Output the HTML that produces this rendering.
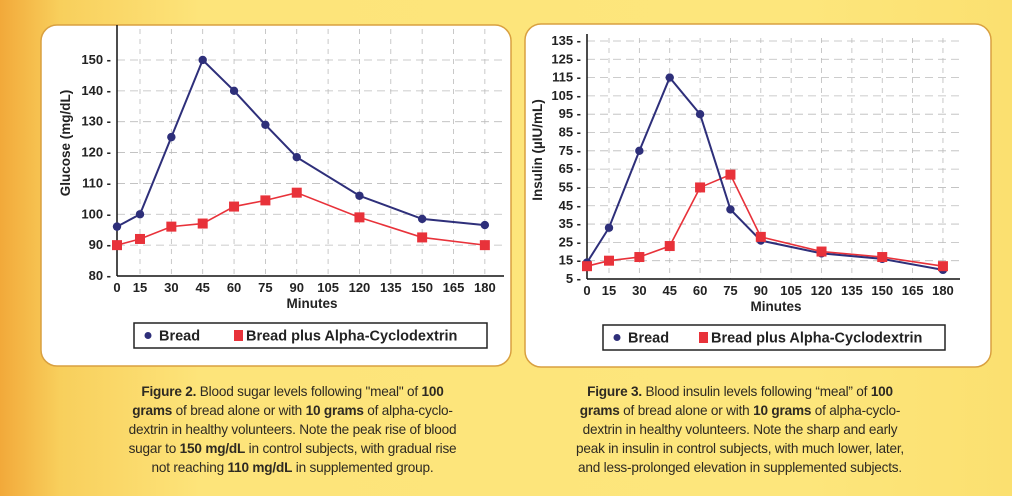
<!DOCTYPE html>
<html><head><meta charset="utf-8">
<style>
html,body{margin:0;padding:0;}
body{width:1012px;height:496px;overflow:hidden;background:linear-gradient(90deg,#f2a93a 0px,#f8cf5c 60px,#fde47a 200px,#fde67c 800px,#fbe070 1012px);font-family:"Liberation Sans",Arial,sans-serif;}
svg{position:absolute;left:0;top:0;}
.cap{position:absolute;color:#2e2a22;font-size:13.6px;line-height:19px;text-align:center;letter-spacing:-0.2px;}
.cap b{font-weight:bold;}
</style></head><body>
<svg id="s" width="1012" height="496" xmlns="http://www.w3.org/2000/svg" font-family="Liberation Sans, Arial, sans-serif"></svg>
<div class="cap" style="left:80px;top:382px;width:425px;"><b>Figure 2.</b> Blood sugar levels following "meal" of <b>100<br>grams</b> of bread alone or with <b>10 grams</b> of alpha-cyclo-<br>dextrin in healthy volunteers. Note the peak rise of blood<br>sugar to <b>150 mg/dL</b> in control subjects, with gradual rise<br>not reaching <b>110 mg/dL</b> in supplemented group.</div>
<div class="cap" style="left:530px;top:382px;width:420px;"><b>Figure 3.</b> Blood insulin levels following “meal” of <b>100<br>grams</b> of bread alone or with <b>10 grams</b> of alpha-cyclo-<br>dextrin in healthy volunteers. Note the sharp and early<br>peak in insulin in control subjects, with much lower, later,<br>and less-prolonged elevation in supplemented subjects.</div>
<script>
var s=document.getElementById('s');var h='';
h+='<rect x="41" y="25" width="470" height="341" rx="16" fill="#fff" stroke="#d9a040" stroke-width="1.5"/>';
h+='<rect x="525" y="24" width="466" height="343" rx="16" fill="#fff" stroke="#d9a040" stroke-width="1.5"/>';
var mins=[0,15,30,45,60,75,90,105,120,135,150,165,180];
function chart(o){
 var X=function(m){return m==0?o.x0:o.x15+(m-15)*o.dx;};
 var Y=function(v){return o.yb-(v-o.vmin)*o.dy;};
 for(var i=1;i<mins.length;i++){h+='<line x1="'+X(mins[i])+'" y1="'+o.ytop+'" x2="'+X(mins[i])+'" y2="'+o.yb+'" stroke="#bbb" stroke-width="0.8" stroke-dasharray="5,5"/>';}
 o.yt.forEach(function(v){ if(v>o.vmin){h+='<line x1="'+o.x0+'" y1="'+Y(v)+'" x2="'+o.xr+'" y2="'+Y(v)+'" stroke="#bbb" stroke-width="0.8" stroke-dasharray="8,5"/>';}
  h+='<text x="'+(o.x0-6)+'" y="'+(Y(v)+4)+'" font-size="13" font-weight="bold" text-anchor="end" fill="#222">'+v+' -</text>';});
 h+='<line x1="'+o.x0+'" y1="'+(o.ytop-4)+'" x2="'+o.x0+'" y2="'+o.yb+'" stroke="#111" stroke-width="1.5"/>';
 h+='<line x1="'+o.x0+'" y1="'+o.yb+'" x2="'+o.xr+'" y2="'+o.yb+'" stroke="#111" stroke-width="1.5"/>';
 mins.forEach(function(m){h+='<text x="'+X(m)+'" y="'+(o.yb+16)+'" font-size="13" font-weight="bold" text-anchor="middle" fill="#222">'+m+'</text>';});
 h+='<text x="'+o.mx+'" y="'+(o.yb+32)+'" font-size="13.5" font-weight="bold" text-anchor="middle" fill="#222">Minutes</text>';
 h+='<text transform="translate('+o.lx+','+o.ly+') rotate(-90)" font-size="13.5" font-weight="bold" text-anchor="middle" fill="#222">'+o.lab+'</text>';
 var ms=[0,15,30,45,60,75,90,120,150,180];
 var pr=ms.map(function(m,i){return X(m)+','+Y(o.r[i]);}).join(' ');
 var pb=ms.map(function(m,i){return X(m)+','+Y(o.b[i]);}).join(' ');
 h+='<polyline points="'+pr+'" fill="none" stroke="#e8323a" stroke-width="1.6"/>';
 h+='<polyline points="'+pb+'" fill="none" stroke="#2e2f7a" stroke-width="2"/>';
 ms.forEach(function(m,i){h+='<circle cx="'+X(m)+'" cy="'+Y(o.b[i])+'" r="4.2" fill="#2e2f7a"/>';});
 ms.forEach(function(m,i){h+='<rect x="'+(X(m)-5)+'" y="'+(Y(o.r[i])-5)+'" width="10" height="10" fill="#e8323a"/>';});
 var L=o.leg;
 h+='<rect x="'+L[0]+'" y="'+L[1]+'" width="'+L[2]+'" height="25" fill="#fff" stroke="#222" stroke-width="1.5"/>';
 h+='<circle cx="'+(L[0]+14)+'" cy="'+(L[1]+12.5)+'" r="3.5" fill="#2e2f7a"/>';
 h+='<text x="'+(L[0]+25)+'" y="'+(L[1]+17.5)+'" font-size="14.5" font-weight="bold" fill="#222">Bread</text>';
 h+='<rect x="'+(L[0]+L[3])+'" y="'+(L[1]+7)+'" width="9" height="11" fill="#e8323a"/>';
 h+='<text x="'+(L[0]+L[3]+12)+'" y="'+(L[1]+17.5)+'" font-size="14.5" font-weight="bold" fill="#222">Bread plus Alpha-Cyclodextrin</text>';
}
chart({x0:117,x15:140,dx:2.09,xr:504,yb:276,ytop:29,vmin:80,dy:3.086,yt:[80,90,100,110,120,130,140,150],
 b:[96,100,125,150,140,129,118.5,106,98.5,96.5],r:[90,92,96,97,102.5,104.5,107,99,92.5,90],
 mx:312,lx:70,ly:143,lab:'Glucose (mg/dL)',leg:[134,323,353,100]});
chart({x0:587,x15:609,dx:2.024,xr:960,yb:279,ytop:38,vmin:5,dy:1.831,yt:[5,15,25,35,45,55,65,75,85,95,105,115,125,135],
 b:[14,33,75,115,95,43,26,19,16,10],r:[12,15,17,23,55,62,28,20,17,12],
 mx:776,lx:542,ly:150,lab:'Insulin (µIU/mL)',leg:[603,325,342,96]});
s.innerHTML=h;
</script>
</body></html>
